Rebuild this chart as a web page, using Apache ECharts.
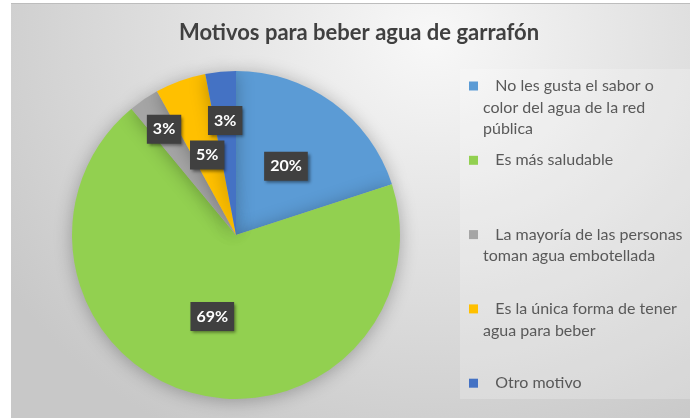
<!DOCTYPE html>
<html>
<head>
<meta charset="utf-8">
<script src="https://cdn.jsdelivr.net/npm/echarts@6/dist/echarts.min.js"></script>
<style>
  html, body { margin: 0; padding: 0; background: #fff; }
  #chart {
    position: absolute;
    left: 11px;
    top: 3px;
    width: 679px;
    height: 415px;
    border-top: 1px solid #bdbdbd;
    box-sizing: border-box;
    background: radial-gradient(ellipse 75% 110% at 62% 8%, #f8f8f8 0%, #e2e2e2 45%, #c8c8c8 100%);
  }
</style>
</head>
<body>
<div id="chart"></div>
<script>
const title = 'Motivos para beber agua de garrafón';
const categories = [
  'No les gusta el sabor o color del agua de la red pública',
  'Es más saludable',
  'La mayoría de las personas toman agua embotellada',
  'Es la única forma de tener agua para beber',
  'Otro motivo',
];
const values = [20, 69, 3, 5, 3];
// how the legend text wraps in the original
const legendLines = [
  ['No les gusta el sabor o', 'color del agua de la red', 'pública'],
  ['Es más saludable'],
  ['La mayoría de las personas', 'toman agua embotellada'],
  ['Es la única forma de tener', 'agua para beber'],
  ['Otro motivo'],
];
const colors = ['#5B9BD5', '#92D050', '#A5A5A5', '#FFC000', '#4472C4'];

const center = [225, 231];
const radius = 164;
// small slices whose labels sit further out than the default
const labelRadius = { 2: 128, 4: 115 };

const LH = 21.6;
const legends = categories.map((name, i) => {
  const n = legendLines[i].length;
  const iconCenter = 82 + i * 74.3;
  // legend text is centred on the icon, so pad with blank lines above
  const blank = '\n'.repeat(n - 1);
  return {
    show: true,
    orient: 'vertical',
    left: 458,
    top: iconCenter - (2 * n - 1) * LH / 2,
    padding: 0,
    data: [name],
    icon: 'rect',
    itemWidth: 9,
    itemHeight: 9,
    selectedMode: false,
    formatter: () => blank + '   ' + legendLines[i].join('\n'),
    textStyle: {
      color: '#595959',
      fontSize: 16,
      fontFamily: 'Lato',
      lineHeight: LH,
    },
  };
});

const chart = echarts.init(document.getElementById('chart'));

chart.setOption({
  backgroundColor: 'transparent',
  color: colors,
  title: {
    text: title,
    left: 348,
    textAlign: 'center',
    top: 18,
    padding: 0,
    textStyle: {
      color: '#404040',
      fontSize: 22,
      fontWeight: 'bold',
      fontFamily: 'Lato',
    },
  },
  graphic: [
    {
      type: 'rect',
      left: 449,
      top: 65,
      shape: { width: 240, height: 330 },
      style: { fill: 'rgba(255,255,255,0.22)' },
      silent: true,
      z: -1,
    },
  ],
  legend: legends,
  series: [
    {
      type: 'pie',
      center: center,
      radius: radius,
      startAngle: 90,
      clockwise: true,
      percentPrecision: 0,
      data: categories.map((name, i) => ({ name, value: values[i] })),
      itemStyle: {
        shadowBlur: 18,
        shadowColor: 'rgba(0,0,0,0.28)',
        shadowOffsetY: 2,
      },
      label: {
        show: true,
        position: 'inside',
        formatter: '{d}%',
        color: '#fff',
        fontSize: 16,
        fontWeight: 'bold',
        fontFamily: 'Lato',
        lineHeight: 18,
        backgroundColor: '#404040',
        padding: [6, 6, 5, 6],
        shadowBlur: 3,
        shadowOffsetX: 2,
        shadowOffsetY: 2,
        shadowColor: 'rgba(0,0,0,0.45)',
      },
      labelLine: { show: false },
      labelLayout: (params) => {
        const r = labelRadius[params.dataIndex];
        if (!r) return {};
        const lr = params.labelRect;
        const cx = lr.x + lr.width / 2;
        const cy = lr.y + lr.height / 2;
        const dx = cx - center[0];
        const dy = cy - center[1];
        const d = Math.sqrt(dx * dx + dy * dy);
        return { dx: dx / d * r - dx, dy: dy / d * r - dy };
      },
      emphasis: { disabled: true },
      animation: false,
    },
  ],
});
</script>
</body>
</html>
